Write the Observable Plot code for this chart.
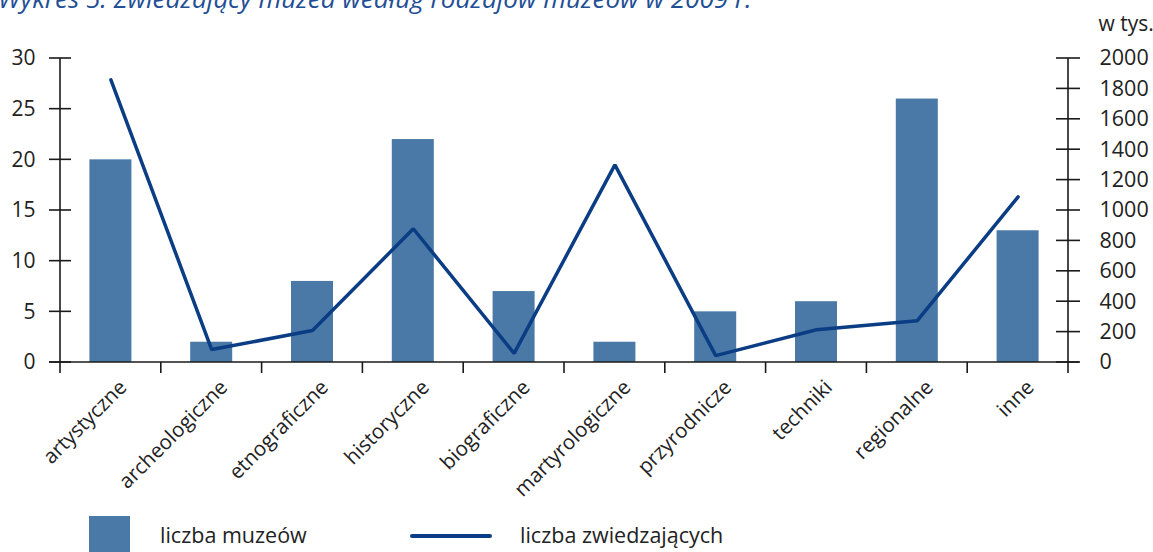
<!DOCTYPE html>
<html>
<head>
<meta charset="utf-8">
<script src="https://cdn.jsdelivr.net/npm/d3@7"></script>
<script src="https://cdn.jsdelivr.net/npm/@observablehq/plot@0.6"></script>
<style>
  html, body { margin: 0; padding: 0; background: #fff; }
  #wrap { position: relative; width: 1153px; height: 552px; overflow: hidden; font-family: "Open Sans", sans-serif; }
  #title { position: absolute; left: -2px; top: -15px; font-size: 26px; line-height: 1; font-style: italic; color: #1f4f96; white-space: nowrap; }
  #chart { position: absolute; left: 0; top: 0; }
  .lg { position: absolute; color: #222; font-size: 21.5px; line-height: 1; }
</style>
</head>
<body>
<div id="wrap">
  <div id="chart"></div>
  <div id="title">Wykres 5. Zwiedzający muzea według rodzajów muzeów w 2009 r.</div>
  <div class="lg" style="left:89px; top:516px; width:41px; height:40px; background:#4a79a7;"></div>
  <div class="lg" style="left:160px; top:524px;">liczba muzeów</div>
  <div class="lg" style="left:410px; top:534px; width:82px; height:4px; border-radius:2px; background:#0a3d84;"></div>
  <div class="lg" style="left:520px; top:524px;">liczba zwiedzających</div>
</div>
<script>
const categories = ["artystyczne","archeologiczne","etnograficzne","historyczne","biograficzne","martyrologiczne","przyrodnicze","techniki","regionalne","inne"];
const museums = [20, 2, 8, 22, 7, 2, 5, 6, 26, 13];
const visitors = [1860, 85, 210, 880, 60, 1300, 45, 215, 275, 1090];
const leftTicks = [0, 5, 10, 15, 20, 25, 30];
const rightTicks = [0, 200, 400, 600, 800, 1000, 1200, 1400, 1600, 1800, 2000];
const leftMax = 30, rightMax = 2000;

const ratio = leftMax / rightMax;
const data = categories.map((c, i) => ({c, m: museums[i], v: visitors[i]}));

function axesLines(index, scales, values, dim) {
  const x = scales.x, y = scales.y;
  const xl = dim.marginLeft, xr = dim.width - dim.marginRight;
  const yb = y(0), yt = y(leftMax);
  const g = d3.create("svg:g").attr("stroke", "#1a1a1a").attr("stroke-width", 1.6).attr("fill", "none");
  g.append("line").attr("x1", xl - 11).attr("x2", xr + 11).attr("y1", yb).attr("y2", yb);
  g.append("line").attr("x1", xl).attr("x2", xl).attr("y1", yt).attr("y2", yb + 11);
  g.append("line").attr("x1", xr).attr("x2", xr).attr("y1", yt).attr("y2", yb + 11);
  categories.forEach(c => {
    const px = x(c);
    if (px > xl + 1) g.append("line").attr("x1", px).attr("x2", px).attr("y1", yb).attr("y2", yb + 11);
  });
  leftTicks.forEach(t => g.append("line").attr("x1", xl - 11).attr("x2", xl + 11).attr("y1", y(t)).attr("y2", y(t)));
  rightTicks.forEach(t => g.append("line").attr("x1", xr - 12).attr("x2", xr + 12).attr("y1", y(t * ratio)).attr("y2", y(t * ratio)));
  return g.node();
}

const chart = Plot.plot({
  width: 1153,
  height: 500,
  marginLeft: 60,
  marginRight: 85,
  marginTop: 58,
  marginBottom: 138,
  style: {fontFamily: "'Open Sans', sans-serif", fontSize: "21px", color: "#222", background: "transparent", overflow: "visible"},
  x: {type: "band", domain: categories, padding: 0, round: false, axis: null},
  y: {domain: [0, leftMax], axis: null},
  marks: [
    Plot.barY(data, {x: "c", y: "m", fill: "#4a79a7", insetLeft: 29.4, insetRight: 29.4}),
    Plot.line(data, {x: "c", y: d => d.v * ratio, stroke: "#0a3d84", strokeWidth: 3.5, strokeLinejoin: "miter"}),
    axesLines,
    Plot.axisY({anchor: "left", label: null, ticks: leftTicks, tickSize: 0, tickPadding: 25, fontSize: 21, fill: "#222"}),
    Plot.axisY({anchor: "right", label: null, ticks: rightTicks.map(t => t * ratio), tickFormat: d => String(Math.round(d / ratio)), tickSize: 0, tickPadding: 31, fontSize: 21.5, fill: "#222"}),
    Plot.text(categories, {x: d => d, frameAnchor: "bottom", dx: 17, dy: 26, rotate: -45, textAnchor: "end", lineAnchor: "bottom", fontSize: 20.5, fill: "#222"}),
    Plot.text(["w tys."], {frameAnchor: "top-right", dx: 30, dy: -28, textAnchor: "start", lineAnchor: "bottom", fontSize: 21, fill: "#222"})
  ]
});
document.getElementById("chart").appendChild(chart);
</script>
</body>
</html>
